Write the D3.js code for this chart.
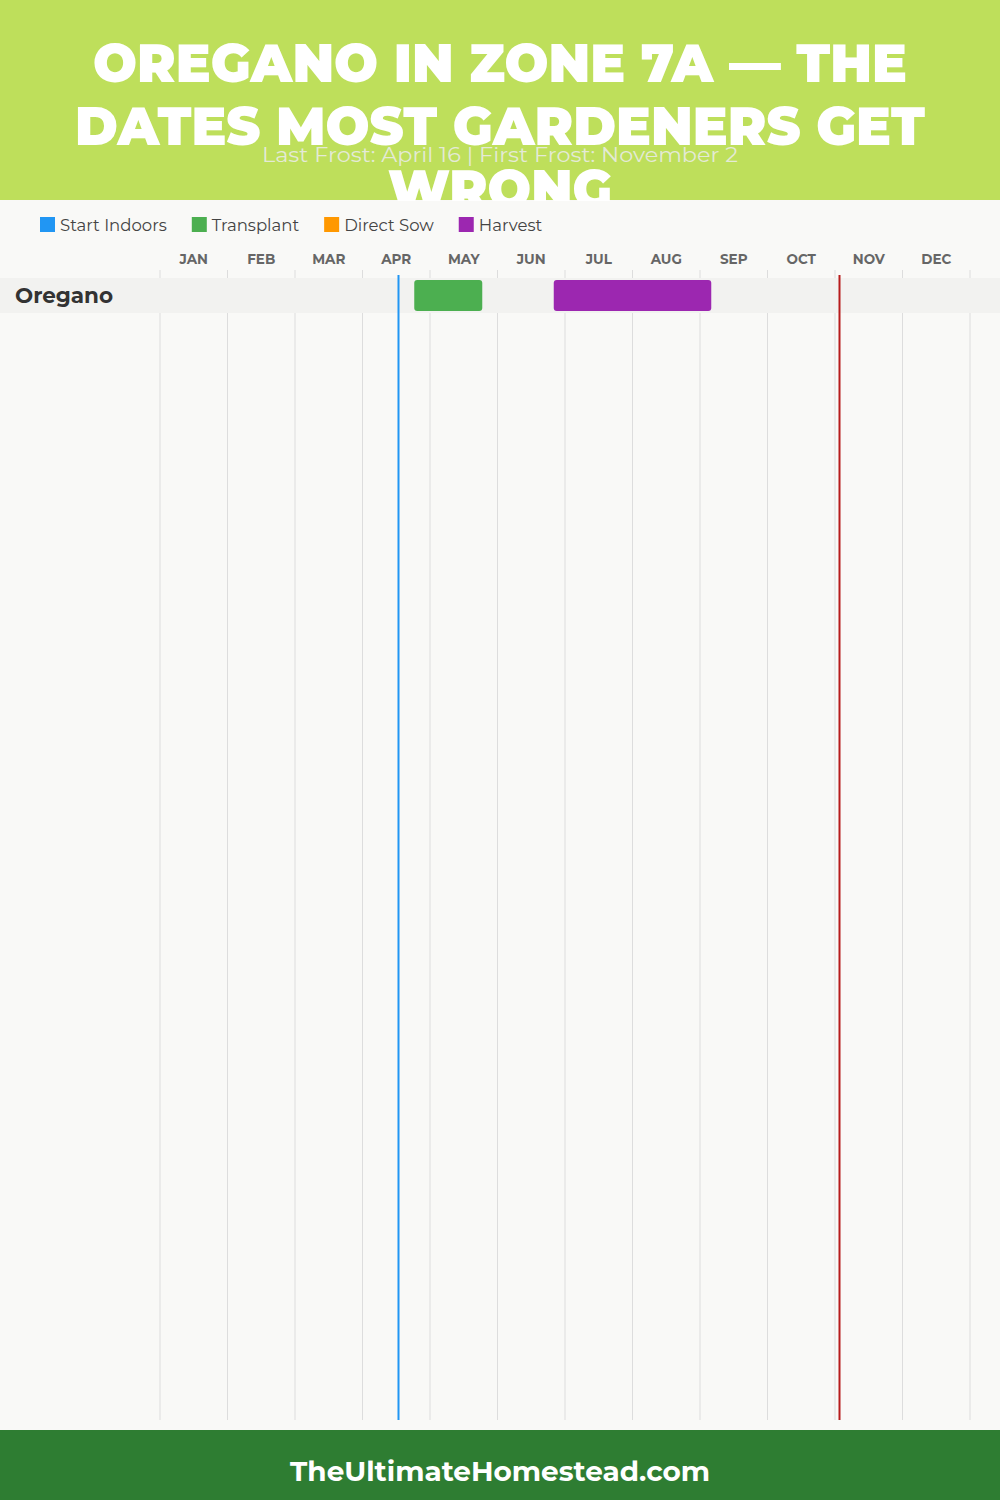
<!DOCTYPE html>
<html><head><meta charset="utf-8">
<script src="https://cdn.jsdelivr.net/npm/d3@7"></script>
<style>
html,body{margin:0;padding:0;background:#f9f9f7;}
svg{display:block;}
</style></head>
<body>
<svg id="chart" width="1000" height="1500"></svg>
<script>
const titleLines = ["OREGANO IN ZONE 7A — THE", "DATES MOST GARDENERS GET", "WRONG"];
const subtitle = "Last Frost: April 16 | First Frost: November 2";
const footerText = "TheUltimateHomestead.com";
const months = ["JAN","FEB","MAR","APR","MAY","JUN","JUL","AUG","SEP","OCT","NOV","DEC"];
const monthDays = [31,28,31,30,31,30,31,31,30,31,30,31];
const legendNames = ["Start Indoors","Transplant","Direct Sow","Harvest"];
const legendColors = ["#2196f3","#4caf50","#ff9800","#9c27b0"];
const crops = ["Oregano"];
const tasks = [
  {crop:"Oregano", type:"Transplant", start:[4,23], end:[5,24]},
  {crop:"Oregano", type:"Harvest", start:[6,25], end:[9,5]}
];
const lastFrost = [4,16];
const firstFrost = [11,2];

const FONT = "Montserrat, 'DejaVu Sans', sans-serif";
const svg = d3.select("#chart");
const W = 1000, H = 1500;

const mpos = d => (d[0]-1) + d[1]/monthDays[d[0]-1];
const x = d3.scaleLinear().domain([0,12]).range([160,970]);
const y = d3.scaleBand().domain(crops).range([278,313]);
const color = d3.scaleOrdinal().domain(legendNames).range(legendColors);

// header
svg.append("rect").attr("x",0).attr("y",0).attr("width",W).attr("height",200).attr("fill","#bedf5b");
const titleWidths = [814, 850, 224];
svg.selectAll("text.title").data(titleLines).join("text").attr("class","title")
  .attr("x",500).attr("y",(d,i)=>82+i*63).attr("text-anchor","middle")
  .attr("font-family",FONT).attr("font-weight",900).attr("font-size",54)
  .attr("fill","#ffffff")
  .attr("textLength",(d,i)=>titleWidths[i]).attr("lengthAdjust","spacingAndGlyphs")
  .text(d=>d);
svg.append("text").attr("x",500).attr("y",162).attr("text-anchor","middle")
  .attr("font-family",FONT).attr("font-size",20).attr("fill","#e4ead6")
  .attr("textLength",476).attr("lengthAdjust","spacingAndGlyphs")
  .text(subtitle);

// chart body (covers overflow of title)
svg.append("rect").attr("x",0).attr("y",201).attr("width",W).attr("height",1229).attr("fill","#f9f9f7");

// legend
const lg = svg.append("g");
let lx = 40;
legendNames.forEach(n=>{
  const g = lg.append("g").attr("transform",`translate(${lx},0)`);
  g.append("rect").attr("x",0).attr("y",217).attr("width",15).attr("height",15).attr("fill",color(n));
  const t = g.append("text").attr("x",20).attr("y",231).attr("font-family",FONT)
    .attr("font-size",16.5).attr("fill","#444").text(n);
  lx += 20 + t.node().getComputedTextLength() + 25;
});

// month labels
svg.selectAll("text.month").data(months).join("text").attr("class","month")
  .attr("x",(d,i)=>x(i+0.5)).attr("y",264).attr("text-anchor","middle")
  .attr("font-family",FONT).attr("font-weight",700).attr("font-size",13.5)
  .attr("fill","#666").text(d=>d);

// grid lines
svg.selectAll("line.grid").data(d3.range(13)).join("line").attr("class","grid")
  .attr("x1",d=>x(d)).attr("x2",d=>x(d)).attr("y1",270).attr("y2",1420)
  .attr("stroke","#dddddd").attr("stroke-width",1);

// row bands
svg.selectAll("rect.band").data(crops).join("rect").attr("class","band")
  .attr("x",0).attr("width",W).attr("y",d=>y(d)).attr("height",y.bandwidth())
  .attr("fill","#f2f2f0");
svg.selectAll("text.crop").data(crops).join("text").attr("class","crop")
  .attr("x",15).attr("y",d=>y(d)+y.bandwidth()/2+7)
  .attr("font-family",FONT).attr("font-weight",700).attr("font-size",21.5)
  .attr("fill","#333").text(d=>d);

// bars
svg.selectAll("rect.bar").data(tasks).join("rect").attr("class","bar")
  .attr("x",d=>x(mpos(d.start))).attr("width",d=>x(mpos(d.end))-x(mpos(d.start)))
  .attr("y",d=>y(d.crop)+2).attr("height",y.bandwidth()-4)
  .attr("rx",3).attr("fill",d=>color(d.type));

// frost lines
svg.append("line").attr("x1",x(mpos(lastFrost))).attr("x2",x(mpos(lastFrost)))
  .attr("y1",275).attr("y2",1420).attr("stroke","#2196f3").attr("stroke-width",2);
svg.append("line").attr("x1",x(mpos(firstFrost))).attr("x2",x(mpos(firstFrost)))
  .attr("y1",275).attr("y2",1420).attr("stroke","#b71c1c").attr("stroke-width",2);

// footer
svg.append("rect").attr("x",0).attr("y",1430).attr("width",W).attr("height",70).attr("fill","#2e7d32");
svg.append("text").attr("x",500).attr("y",1481).attr("text-anchor","middle")
  .attr("font-family",FONT).attr("font-weight",700).attr("font-size",28).attr("fill","#fff")
  .attr("textLength",420).attr("lengthAdjust","spacingAndGlyphs")
  .text(footerText);
</script>
</body></html>
